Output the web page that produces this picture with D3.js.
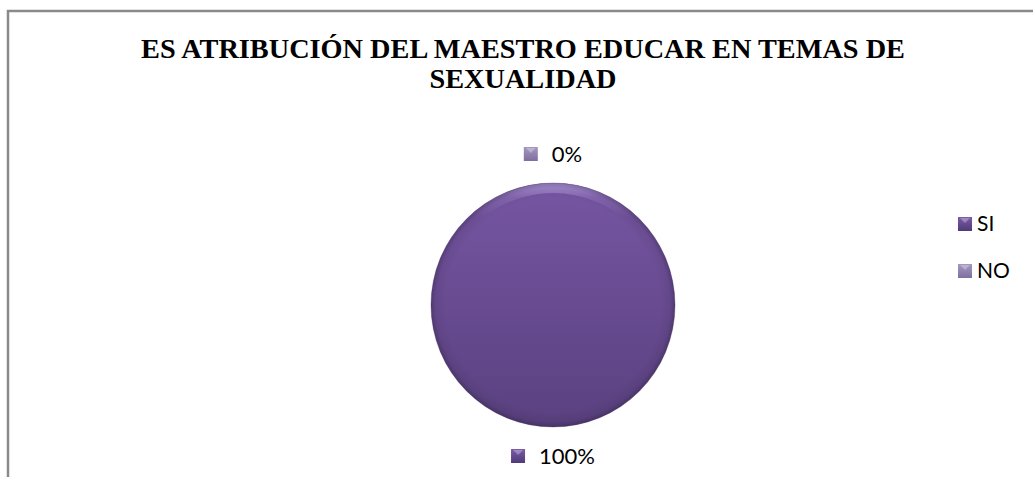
<!DOCTYPE html>
<html>
<head>
<meta charset="utf-8">
<script src="https://cdn.jsdelivr.net/npm/d3@7"></script>
<style>
html,body{margin:0;padding:0;background:#fff;}
svg{display:block;}
</style>
</head>
<body>
<svg id="chart" width="1033" height="477"></svg>
<script>
const categories = ["SI", "NO"];
const values = [100, 0];
const titleLines = ["ES ATRIBUCIÓN DEL MAESTRO EDUCAR EN TEMAS DE", "SEXUALIDAD"];

const W = 1033, H = 477;
const svg = d3.select("#chart");
const defs = svg.append("defs");

// gradients
const pieGrad = defs.append("linearGradient").attr("id","pieGrad").attr("x1",0).attr("y1",0).attr("x2",0).attr("y2",1);
pieGrad.append("stop").attr("offset","0%").attr("stop-color","#7655a2");
pieGrad.append("stop").attr("offset","100%").attr("stop-color","#5a4180");

const rimGrad = defs.append("radialGradient").attr("id","rimGrad")
  .attr("cx","50%").attr("cy","50%").attr("r","50%");
rimGrad.append("stop").attr("offset","88%").attr("stop-color","#000").attr("stop-opacity",0);
rimGrad.append("stop").attr("offset","96%").attr("stop-color","#000").attr("stop-opacity",0.06);
rimGrad.append("stop").attr("offset","100%").attr("stop-color","#000").attr("stop-opacity",0.22);

const topGlow = defs.append("linearGradient").attr("id","topGlow").attr("x1",0).attr("y1",0).attr("x2",0).attr("y2",1);
topGlow.append("stop").attr("offset","0%").attr("stop-color","#b9a3e6").attr("stop-opacity",0.8);
topGlow.append("stop").attr("offset","6%").attr("stop-color","#b9a3e6").attr("stop-opacity",0.25);
topGlow.append("stop").attr("offset","14%").attr("stop-color","#b9a3e6").attr("stop-opacity",0);

const colorStops = {SI:["#7a5ca8","#4f3a78"], NO:["#a497c0","#7f6f9f"]};
categories.forEach(c=>{
  const g = defs.append("linearGradient").attr("id","mk"+c).attr("x1",0).attr("y1",0).attr("x2",0).attr("y2",1);
  g.append("stop").attr("offset","0%").attr("stop-color",colorStops[c][0]);
  g.append("stop").attr("offset","100%").attr("stop-color",colorStops[c][1]);
});

// border
svg.append("rect").attr("x",8).attr("y",11).attr("width",W+20).attr("height",H+20)
  .attr("fill","none").attr("stroke","#8a8a8a").attr("stroke-width",2.5);

// title
const title = svg.append("text").attr("text-anchor","middle")
  .style("font-family","'Liberation Serif','Times New Roman',serif")
  .style("font-weight","bold").style("font-size","28.3px").attr("fill","#000");
titleLines.forEach((t,i)=>{
  title.append("tspan").attr("x",523).attr("y",58 + i*30).text(t);
});

// pie
const cx = 553, cy = 305, r = 122;
const total = d3.sum(values);
const data = categories.map((c,i)=>({cat:c, value:values[i]}));
const pie = d3.pie().value(d=>d.value).sort(null);
const arcs = pie(data);
const arc = d3.arc().innerRadius(0).outerRadius(r);
const labelArc = d3.arc().innerRadius(r+29).outerRadius(r+29);

const g = svg.append("g").attr("transform",`translate(${cx},${cy})`);
const shown = arcs.filter(d=>d.value>0);
g.selectAll("path.slice").data(shown).join("path")
  .attr("class","slice").attr("d",arc).attr("fill","url(#pieGrad)");
g.selectAll("path.glow").data(shown).join("path")
  .attr("class","glow").attr("d",d3.arc().innerRadius(r-10).outerRadius(r)).attr("fill","url(#topGlow)");
g.selectAll("path.rim").data(shown).join("path")
  .attr("class","rim").attr("d",arc).attr("fill","url(#rimGrad)");
g.selectAll("path.edge").data(shown).join("path")
  .attr("class","edge").attr("d",arc).attr("fill","none").attr("stroke","#3f2d60").attr("stroke-width",0.6).attr("stroke-opacity",0.5);

// data labels
const fmt = d3.format(".0%");
const lblFont = "Lato, 'Open Sans', sans-serif";
arcs.forEach(d=>{
  const [lx,ly] = labelArc.centroid(d);
  const lg = g.append("g").attr("transform",`translate(${lx},${ly})`);
  const txt = lg.append("text").attr("x",0).attr("y",8).style("font-family",lblFont).style("font-size","22px").attr("fill","#000")
    .text(fmt(d.value/total));
  const tw = txt.node().getComputedTextLength();
  const mk = 14, gap = 14;
  const totalW = mk + gap + tw;
  txt.attr("x", -totalW/2 + mk + gap);
  lg.append("rect").attr("x",-totalW/2).attr("y",-7).attr("width",mk).attr("height",mk)
    .attr("fill","url(#mk"+d.data.cat+")");
  lg.append("path").attr("d",`M${-totalW/2+2},${-6} L${-totalW/2+mk-2},${-6} L${-totalW/2+mk/2},${-1} Z`)
    .attr("fill","#fff").attr("opacity",0.3);
});

// legend
const lgY = d3.scalePoint().domain(categories).range([224,271]);
const leg = svg.append("g");
categories.forEach(c=>{
  const y = lgY(c);
  leg.append("rect").attr("x",958).attr("y",y-7).attr("width",14).attr("height",14).attr("fill","url(#mk"+c+")");
  leg.append("path").attr("d",`M${960},${y-6} L${970},${y-6} L${965},${y-1} Z`).attr("fill","#fff").attr("opacity",0.3);
  leg.append("text").attr("x",977).attr("y",y+7).style("font-family",lblFont).style("font-size","21px").attr("fill","#000").text(c);
});
</script>
</body>
</html>
